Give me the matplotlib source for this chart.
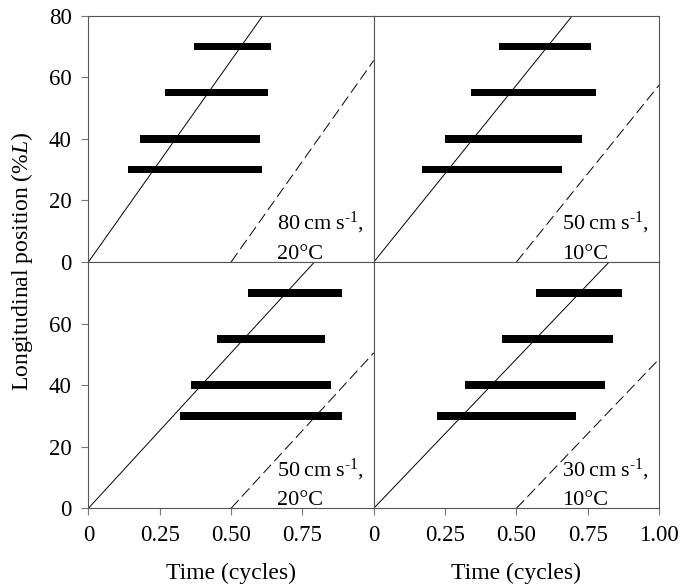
import numpy as np
import matplotlib
matplotlib.use('Agg')
import matplotlib.pyplot as plt

plt.rcParams['font.family'] = ['Liberation Serif', 'DejaVu Serif']
plt.rcParams['mathtext.fontset'] = 'custom'
plt.rcParams['mathtext.rm'] = 'Liberation Serif'
plt.rcParams['mathtext.it'] = 'Liberation Serif:italic'
plt.rcParams['lines.scale_dashes'] = False

# panels: top-left, top-right, bottom-left, bottom-right
speeds = ['80', '50', '50', '30']
temps = ['20', '10', '20', '10']
slopes = [131, 115, 101, 97]   # %L per cycle of the wave
bar_y = [70, 55, 40, 30]
bar_start = [[0.37, 0.27, 0.18, 0.14],
             [0.44, 0.34, 0.25, 0.17],
             [0.56, 0.45, 0.36, 0.32],
             [0.57, 0.45, 0.32, 0.22]]
bar_end = [[0.64, 0.63, 0.60, 0.61],
           [0.76, 0.78, 0.73, 0.66],
           [0.89, 0.83, 0.85, 0.89],
           [0.87, 0.84, 0.81, 0.71]]

xtick_vals = [0, 0.25, 0.5, 0.75, 1.0]
xtick_labels = ['0', '0.25', '0.50', '0.75', '1.00']
ytick_vals = [0, 20, 40, 60, 80]

fig, axs = plt.subplots(2, 2, figsize=(6.96, 5.86), dpi=100)
fig.subplots_adjust(left=0.127, right=0.947, top=0.973, bottom=0.1326,
                    wspace=0, hspace=0)

for i, ax in enumerate(axs.flat):
    row, col = divmod(i, 2)
    s = slopes[i]
    ax.plot([0, 1], [0, s], color='black', lw=0.7)
    ax.plot([0.5, 1], [0, 0.5 * s], color='black', lw=0.7,
            linestyle=(0, (8, 3.5)))
    starts = np.array(bar_start[i])
    ends = np.array(bar_end[i])
    ax.barh(bar_y, ends - starts, left=starts, height=2.4, color='black')
    ax.text(0.66, 10.5, speeds[i] + '\u2009cm\u2009s' + r'$^{\text{-1}}$,',
            fontsize=16, ha='left', va='baseline')
    ax.text(0.66, 1.0, temps[i] + '°C', fontsize=16, ha='left', va='baseline')

    ax.set_xlim(0, 1)
    ax.set_ylim(0, 80)
    for sp in ax.spines.values():
        sp.set_color('#555555')
        sp.set_linewidth(0.8)
    ax.tick_params(direction='out', length=5, width=0.8, color='#777777',
                   labelsize=16.5, pad=7)

    if row == 1:
        n = 5 if col == 1 else 4
        ax.set_xticks(xtick_vals[:n])
        ax.set_xticklabels(xtick_labels[:n])
        ax.set_xlabel('Time (cycles)', fontsize=17, labelpad=12)
    else:
        ax.set_xticks([])
    if col == 0:
        n = 5 if row == 0 else 4
        ax.set_yticks(ytick_vals[:n])
        ax.set_yticklabels([str(v) for v in ytick_vals[:n]])
    else:
        ax.set_yticks([])

fig.text(0.032, 0.555, r'Longitudinal position (%$\it{L}$)', fontsize=17,
         rotation=90, ha='center', va='center')

fig.savefig('out.png', dpi=100)
